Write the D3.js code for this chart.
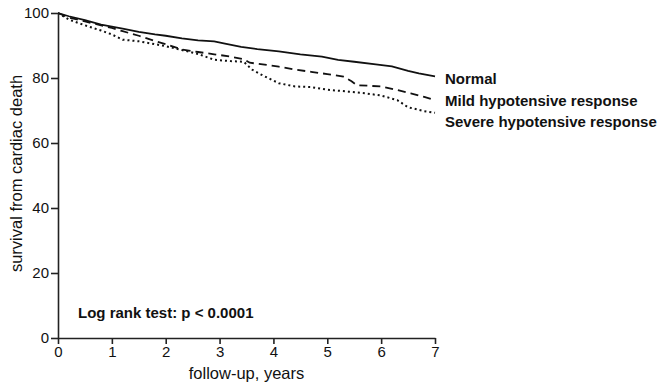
<!DOCTYPE html>
<html>
<head>
<meta charset="utf-8">
<script src="https://cdn.jsdelivr.net/npm/d3@7"></script>
<style>
  body { margin: 0; background: #fff; }
  svg { font-family: "Liberation Sans", Arial, sans-serif; }
  .axis path, .axis line { stroke: #222; stroke-width: 1.6px; }
  .axis text { font-size: 15px; fill: #111; }
</style>
</head>
<body>
<div id="chart"></div>
<script>
// follow-up times (years) and survival (%)
var normalT = [0, 0.2, 0.5, 0.8, 1.0, 1.2, 1.5, 1.8, 2.0, 2.3, 2.6, 2.9, 3.1, 3.4, 3.7, 4.1, 4.5, 4.9, 5.2, 5.5, 5.9, 6.2, 6.5, 6.7, 7.0];
var normalS = [100, 99.0, 97.8, 96.4, 95.8, 95.2, 94.2, 93.4, 93.0, 92.2, 91.6, 91.3, 90.6, 89.6, 88.9, 88.2, 87.3, 86.6, 85.6, 85.0, 84.2, 83.6, 82.2, 81.4, 80.5];

var mildT = [0, 0.2, 0.5, 0.8, 1.0, 1.2, 1.5, 1.8, 2.0, 2.3, 2.6, 2.9, 3.2, 3.45, 3.56, 3.8, 4.1, 4.4, 4.7, 5.0, 5.3, 5.45, 5.55, 6.0, 6.3, 6.55, 6.8, 7.0];
var mildS = [100, 98.6, 97.4, 96.2, 95.4, 94.4, 93.0, 91.4, 90.4, 88.8, 88.0, 87.3, 86.6, 85.8, 84.7, 84.2, 83.5, 82.6, 81.9, 81.2, 80.4, 79.0, 77.8, 77.4, 76.3, 75.3, 74.2, 73.2];

var severeT = [0, 0.2, 0.5, 0.8, 1.0, 1.2, 1.5, 1.8, 2.0, 2.3, 2.6, 2.9, 3.2, 3.45, 3.6, 3.8, 4.1, 4.4, 4.7, 5.0, 5.4, 5.7, 6.0, 6.3, 6.5, 6.8, 7.0];
var severeS = [100, 98.0, 96.2, 94.6, 93.4, 91.8, 91.3, 90.4, 89.8, 88.6, 87.4, 85.6, 85.2, 85.0, 82.6, 80.8, 78.4, 77.4, 77.2, 76.4, 75.8, 75.3, 74.6, 73.2, 71.0, 69.8, 69.3];

var groups = ["Normal", "Mild hypotensive response", "Severe hypotensive response"];
var xTicks = [0, 1, 2, 3, 4, 5, 6, 7];
var yTicks = [0, 20, 40, 60, 80, 100];

var width = 658, height = 384;
var margin = {top: 13, right: 223, bottom: 46, left: 58};

var svg = d3.select("#chart").append("svg")
    .attr("width", width)
    .attr("height", height);

var x = d3.scaleLinear().domain([0, 7]).range([margin.left, width - margin.right]);
var y = d3.scaleLinear().domain([0, 100]).range([height - margin.bottom, margin.top]);

function zip(t, s) {
  return t.map(function(d, i) { return {t: d, s: s[i]}; });
}

var series = [
  {name: groups[0], values: zip(normalT, normalS), dash: null, w: 1.8},
  {name: groups[1], values: zip(mildT, mildS), dash: "8,5", w: 1.8},
  {name: groups[2], values: zip(severeT, severeS), dash: "2,3", w: 2}
];

var line = d3.line()
    .x(function(d) { return x(d.t); })
    .y(function(d) { return y(d.s); });

svg.selectAll(".curve")
    .data(series)
  .enter().append("path")
    .attr("class", "curve")
    .attr("fill", "none")
    .attr("stroke", "#111")
    .attr("stroke-width", function(d) { return d.w; })
    .attr("stroke-dasharray", function(d) { return d.dash; })
    .attr("d", function(d) { return line(d.values); });

svg.append("g")
    .attr("class", "axis")
    .attr("transform", "translate(0," + y(0) + ")")
    .call(d3.axisBottom(x).tickValues(xTicks).tickFormat(d3.format("d"))
      .tickSize(6).tickSizeOuter(0).tickPadding(2));

svg.append("g")
    .attr("class", "axis")
    .attr("transform", "translate(" + x(0) + ",0)")
    .call(d3.axisLeft(y).tickValues(yTicks).tickSize(7).tickSizeOuter(0).tickPadding(2));

// legend labels at the end of each curve
svg.selectAll(".lab")
    .data(series)
  .enter().append("text")
    .attr("class", "lab")
    .attr("x", x(7) + 10)
    .attr("y", function(d, i) { return 84 + i * 21.5; })
    .attr("font-size", 15)
    .attr("font-weight", "bold")
    .attr("fill", "#111")
    .text(function(d) { return d.name; });

svg.append("text")
    .attr("x", 78)
    .attr("y", 318)
    .attr("font-size", 15)
    .attr("font-weight", "bold")
    .attr("fill", "#111")
    .text("Log rank test: p < 0.0001");

svg.append("text")
    .attr("x", (x(0) + x(7)) / 2)
    .attr("y", 379)
    .attr("text-anchor", "middle")
    .attr("font-size", 16.5)
    .attr("fill", "#111")
    .text("follow-up, years");

svg.append("text")
    .attr("transform", "translate(22," + (y(50) - 2) + ") rotate(-90)")
    .attr("text-anchor", "middle")
    .attr("font-size", 16.5)
    .attr("fill", "#111")
    .text("survival from cardiac death");
</script>
</body>
</html>
